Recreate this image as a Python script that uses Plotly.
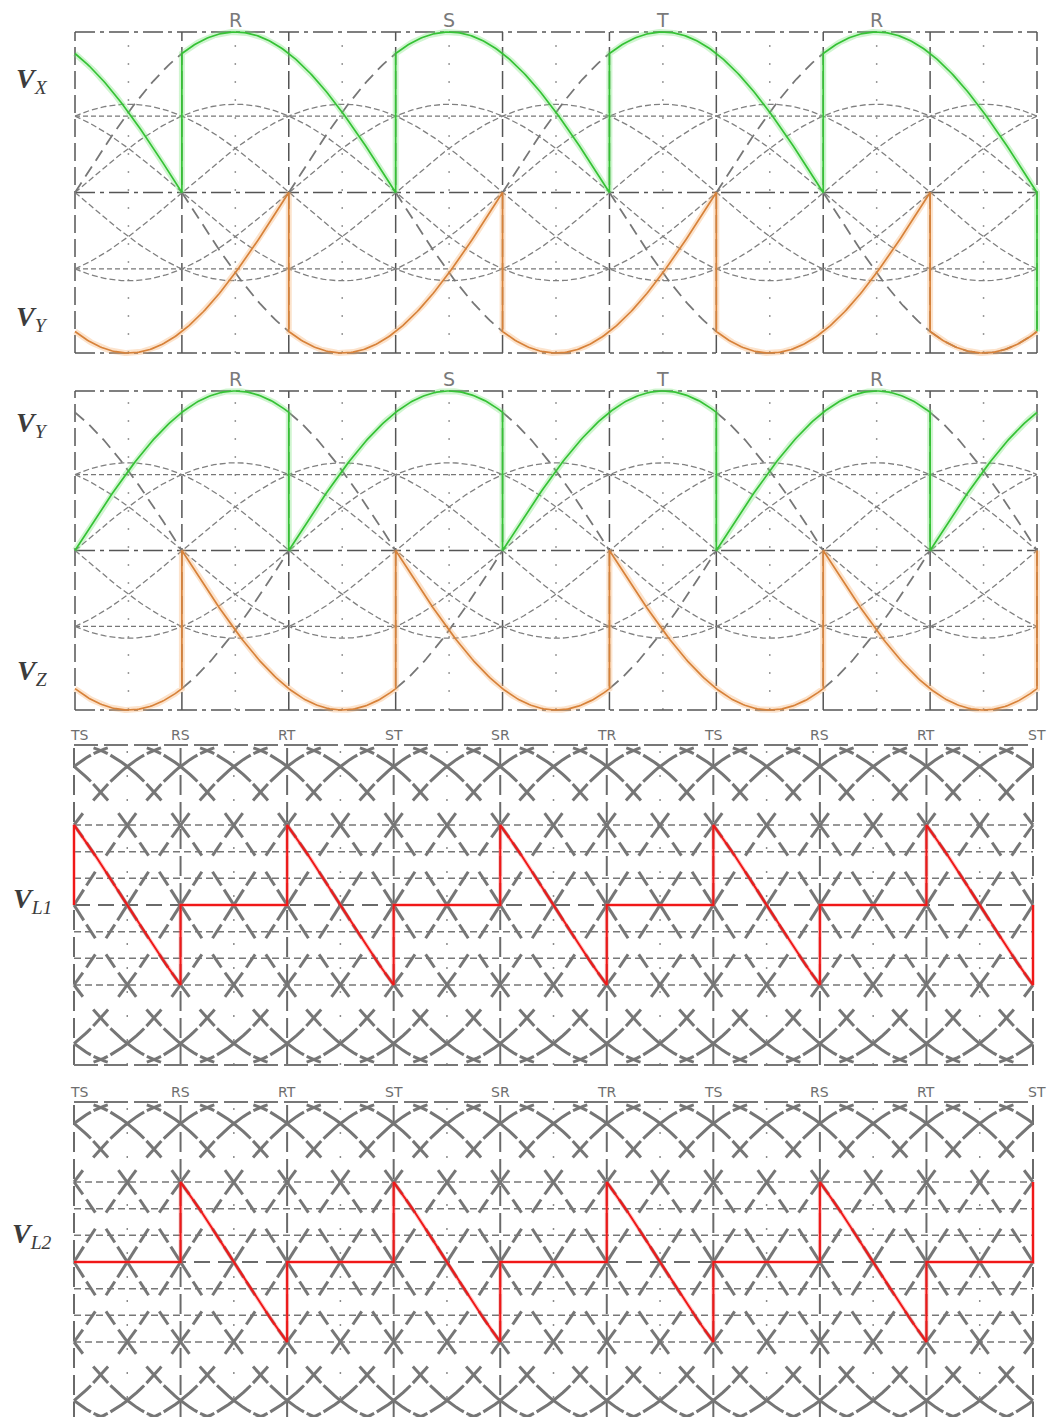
import numpy as np
import plotly.graph_objects as go

W, H = 1049, 1417

# ---------------- data ----------------
GRID_DEG = [0, 60, 120, 180, 240, 300, 360, 420, 480, 540]
HALF_DEG = [30, 90, 150, 210, 270, 330, 390, 450, 510]
PHASE_SHIFT = {"R": 0, "S": 120, "T": 240}
PEAK_LABELS = ["R", "S", "T", "R"]
PEAK_DEG = [90, 210, 330, 450]
LL_LABELS = ["TS", "RS", "RT", "ST", "SR", "TR", "TS", "RS", "RT", "ST"]

BIG_AMP = 1.0
SMALL_AMP = 0.55
SMALL_SHIFTS = [0, 60, 120, 180, 240, 300]
PHASE_GRID_LEVELS = [-0.476, 0.476]

# panel 1 (V_X / V_Y)
P1_GREEN = [("T", 0, 60), ("R", 60, 180), ("S", 180, 300), ("T", 300, 420), ("R", 420, 540), ("T", 540, 540)]
P1_ORANGE = [("S", 0, 120), ("T", 120, 240), ("R", 240, 360), ("S", 360, 480), ("T", 480, 540)]
P1_GUIDE = [("R", 0, 60), ("S", 120, 180), ("T", 240, 300), ("R", 360, 420), ("T", 480, 540),
            ("T", 60, 120), ("R", 180, 240), ("S", 300, 360), ("T", 420, 480)]
# panel 2 (V_Y / V_Z)
P2_GREEN = [("R", 0, 120), ("S", 120, 240), ("T", 240, 360), ("R", 360, 480), ("S", 480, 540)]
P2_ORANGE = [("S", 0, 60), ("T", 60, 180), ("R", 180, 300), ("S", 300, 420), ("T", 420, 540), ("R", 540, 540)]
P2_GUIDE = [("T", 0, 60), ("R", 120, 180), ("S", 240, 300), ("T", 360, 420), ("R", 480, 540),
            ("S", 60, 120), ("T", 180, 240), ("R", 300, 360), ("S", 420, 480)]

# line-to-line panels
LL_SHIFTS = [0, 30, 60, 90, 120, 150, 180, 210, 240, 270, 300, 330]
LL_LEVELS = [-0.5, -1 / 3, -1 / 6, 1 / 6, 1 / 3, 0.5]
MESH_HALF_W = [5.5, 8, 5, 4.2, 9.5, 4, 0]
MESH_GAP = [0, 3, 0, 0, 0, 0, 0]
# pieces: ("c", start, end, shift) sine piece, ("f", start, end, level) flat
VL1_PIECES = [("f", 0, 0, 0), ("c", 0, 60, 210), ("f", 60, 120, 0), ("c", 120, 180, 330), ("f", 180, 240, 0),
              ("c", 240, 300, 450), ("f", 300, 360, 0), ("c", 360, 420, 570), ("f", 420, 480, 0),
              ("c", 480, 540, 690), ("f", 540, 540, 0)]
VL2_PIECES = [("f", 0, 60, 0), ("c", 60, 120, 270), ("f", 120, 180, 0), ("c", 180, 240, 390), ("f", 240, 300, 0),
              ("c", 300, 360, 510), ("f", 360, 420, 0), ("c", 420, 480, 630), ("f", 480, 540, 0),
              ("c", 540, 540, 750)]

SIDE_LABELS = ["X", "Y", "Y", "Z", "L1", "L2"]

# ---------------- geometry (pixels) ----------------
PANELS = {
    1: dict(c=192.5, a=160.5, x0=75, x1=1037),
    2: dict(c=550.5, a=159.5, x0=75, x1=1037),
    3: dict(c=905.0, a=160.0, x0=74, x1=1033),
    4: dict(c=1262.0, a=160.0, x0=74, x1=1033),
}
SIDE_LABEL_PY = [80, 318, 425, 672, 900, 1235]
YPAD = 1.06
XPAD = 6

layout_axes = {}
for p, g in PANELS.items():
    k = (g["x1"] - g["x0"]) / 540.0
    xl = g["x0"] - XPAD * k
    xr = g["x1"] + XPAD * k
    yt = g["c"] - YPAD * g["a"]
    yb = min(g["c"] + YPAD * g["a"], H)
    ylo = -(yb - g["c"]) / g["a"]
    sfx = "" if p == 1 else str(p)
    layout_axes["xaxis" + sfx] = dict(domain=[xl / W, xr / W], range=[-XPAD, 540 + XPAD], visible=False,
                                      fixedrange=True, anchor="y" + sfx)
    layout_axes["yaxis" + sfx] = dict(domain=[1 - yb / H, 1 - yt / H], range=[ylo, YPAD], visible=False,
                                      fixedrange=True, anchor="x" + sfx)


def refs(p):
    s = "" if p == 1 else str(p)
    return "x" + s, "y" + s


def pval(name, deg, amp=1.0):
    return amp * np.sin(np.radians(np.asarray(deg, dtype=float) - PHASE_SHIFT[name]))


def joined_path(segments, amp=1.0):
    xs, ys = [], []
    for name, a, b in segments:
        n = int(abs(b - a)) + 1 if b > a else 1
        t = np.linspace(a, b, max(n, 1))
        xs += t.tolist()
        ys += pval(name, t, amp).tolist()
    return xs, ys


def split_path(segments, amp=1.0):
    xs, ys = [], []
    for name, a, b in segments:
        t = np.linspace(a, b, int(b - a) + 1)
        xs += t.tolist() + [None]
        ys += pval(name, t, amp).tolist() + [None]
    return xs, ys


fig = go.Figure()
shapes = []
annotations = []


def line_shape(p, x0, y0, x1, y1, color, width, dash):
    xr, yr = refs(p)
    shapes.append(dict(type="line", xref=xr, yref=yr, x0=x0, y0=y0, x1=x1, y1=y1, layer="below",
                       line=dict(color=color, width=width, dash=dash)))


GREEN = "#35c235"
GREEN_GLOW = "rgba(120,225,120,0.35)"
ORANGE = "#d7823a"
ORANGE_GLOW = "rgba(245,175,110,0.35)"

# ---------------- phase panels ----------------
for p, green, orange, guide in [(1, P1_GREEN, P1_ORANGE, P1_GUIDE), (2, P2_GREEN, P2_ORANGE, P2_GUIDE)]:
    xr, yr = refs(p)
    for d in GRID_DEG:
        line_shape(p, d, -1, d, 1, "#555555", 1.5, "18px,6px")
    for d in HALF_DEG:
        line_shape(p, d, -1, d, 1, "#9a9a9a", 1.5, "2px,16px")
    for yv in [-1, 0, 1]:
        line_shape(p, 0, yv, 540, yv, "#555555", 1.5, "20px,5px,4px,5px")
    for yv in PHASE_GRID_LEVELS:
        line_shape(p, 0, yv, 540, yv, "#777777", 1.2, "5px,3px")
    sx, sy = [], []
    for s in SMALL_SHIFTS:
        t = np.linspace(0, 540, 541)
        sx += t.tolist() + [None]
        sy += (SMALL_AMP * np.sin(np.radians(t - s))).tolist() + [None]
    fig.add_trace(go.Scatter(x=sx, y=sy, mode="lines", xaxis=xr, yaxis=yr, hoverinfo="skip",
                             line=dict(color="#808080", width=1.3, dash="6px,3px")))
    gx, gy = split_path(guide, BIG_AMP)
    fig.add_trace(go.Scatter(x=gx, y=gy, mode="lines", xaxis=xr, yaxis=yr, hoverinfo="skip",
                             line=dict(color="#777777", width=1.8, dash="12px,7px")))
    for segs, col, glow in [(green, GREEN, GREEN_GLOW), (orange, ORANGE, ORANGE_GLOW)]:
        cx, cy = joined_path(segs, BIG_AMP)
        fig.add_trace(go.Scatter(x=cx, y=cy, mode="lines", xaxis=xr, yaxis=yr, hoverinfo="skip",
                                 line=dict(color=glow, width=6)))
        fig.add_trace(go.Scatter(x=cx, y=cy, mode="lines", xaxis=xr, yaxis=yr, hoverinfo="skip",
                                 line=dict(color=col, width=1.7)))
    g = PANELS[p]
    for lab, d in zip(PEAK_LABELS, PEAK_DEG):
        annotations.append(dict(text=lab, x=d, xref=xr, y=1 - (g["c"] - g["a"] - 12) / H, yref="paper",
                                xanchor="center", yanchor="middle", showarrow=False,
                                font=dict(family="DejaVu Sans", size=19, color="#7a7a7a")))

# ---------------- line-to-line panels ----------------
for p, pieces in [(3, VL1_PIECES), (4, VL2_PIECES)]:
    xr, yr = refs(p)
    for d in GRID_DEG:
        line_shape(p, d, -1, d, 1, "#6a6a6a", 2, "20px,7px")
    for d in HALF_DEG:
        line_shape(p, d, -1, d, 1, "#8a8a8a", 1.5, "2px,22px")
    for yv in LL_LEVELS:
        line_shape(p, 0, yv, 540, yv, "#777777", 1.5, "7px,4px")
    line_shape(p, 0, 0, 540, 0, "#6a6a6a", 1.8, "16px,8px")
    for yv in [-1, 1]:
        line_shape(p, 0, yv, 540, yv, "#777777", 2, "24px,6px")
    mx, my = [], []
    for s in LL_SHIFTS:
        for c in range(0, 541, 15):
            i = int(round((c - s) / 15)) % 12
            lvl = i if i <= 6 else 12 - i
            w, gap = MESH_HALF_W[lvl], MESH_GAP[lvl]
            if w <= 0:
                continue
            parts = [(c - w, c - gap), (c + gap, c + w)] if gap > 0 else [(c - w, c + w)]
            for a, b in parts:
                a, b = max(a, 0), min(b, 540)
                if b <= a:
                    continue
                t = np.linspace(a, b, 10)
                mx += t.tolist() + [None]
                my += np.sin(np.radians(t - s)).tolist() + [None]
    fig.add_trace(go.Scatter(x=mx, y=my, mode="lines", xaxis=xr, yaxis=yr, hoverinfo="skip",
                             line=dict(color="#767676", width=3)))
    rx, ry = [], []
    for kind, a, b, v in pieces:
        if kind == "f":
            rx += [a, b]
            ry += [v, v]
        else:
            t = np.linspace(a, b, int(b - a) + 1) if b > a else np.array([float(a)])
            rx += t.tolist()
            ry += np.sin(np.radians(t - v)).tolist()
    fig.add_trace(go.Scatter(x=rx, y=ry, mode="lines", xaxis=xr, yaxis=yr, hoverinfo="skip",
                             line=dict(color="rgba(255,80,80,0.3)", width=4)))
    fig.add_trace(go.Scatter(x=rx, y=ry, mode="lines", xaxis=xr, yaxis=yr, hoverinfo="skip",
                             line=dict(color="#f01818", width=2)))
    g = PANELS[p]
    for lab, d in zip(LL_LABELS, GRID_DEG):
        xs = 5 if d == 0 else (4 if d == 540 else 0)
        annotations.append(dict(text=lab, x=d, xref=xr, xshift=xs, y=1 - (g["c"] - g["a"] - 10) / H, yref="paper",
                                xanchor="center", yanchor="middle", showarrow=False,
                                font=dict(family="DejaVu Sans", size=14, color="#6e6e6e")))

# ---------------- side labels ----------------
for sub, py in zip(SIDE_LABELS, SIDE_LABEL_PY):
    annotations.append(dict(text="<b><i>V</i></b><sub><i>" + sub + "</i></sub>", x=32 / W, y=1 - py / H,
                            xref="paper", yref="paper", xanchor="center", yanchor="middle", showarrow=False,
                            font=dict(family="Liberation Serif", size=28, color="#3c3c3c")))

fig.update_layout(width=W, height=H, margin=dict(l=0, r=0, t=0, b=0), showlegend=False,
                  paper_bgcolor="white", plot_bgcolor="white",
                  shapes=shapes, annotations=annotations, **layout_axes)

fig.write_html("out.html")
